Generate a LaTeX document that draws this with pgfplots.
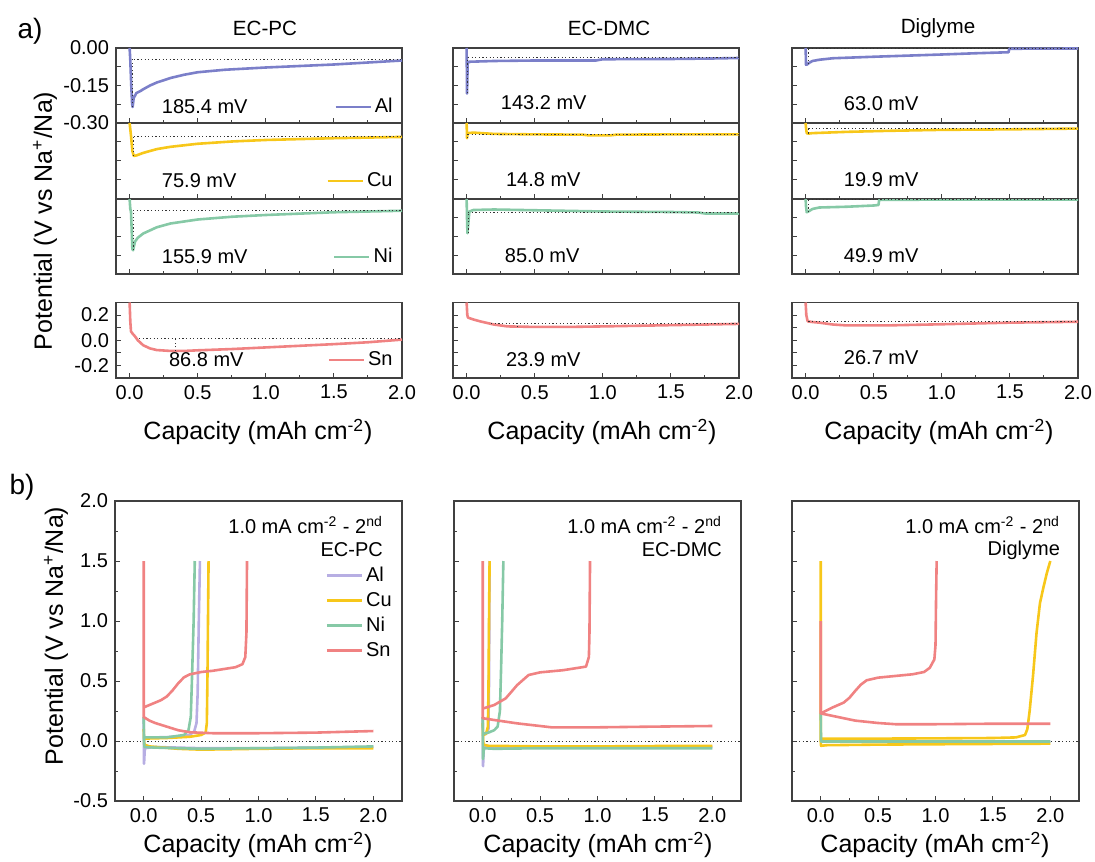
\documentclass[border=0pt]{standalone}
\usepackage{pgfplots}
\pgfplotsset{compat=1.18}
\usepackage{fontspec}
\setmainfont{Liberation Sans}
\definecolor{cAl}{HTML}{7B7FC9}
\definecolor{cAlb}{HTML}{B7AEE3}
\definecolor{cCu}{HTML}{F7C71A}
\definecolor{cNi}{HTML}{86C9A6}
\definecolor{cSn}{HTML}{F08282}
\tikzset{mv/.style={anchor=west, font=\fontsize{10}{12}\selectfont}}
\pgfplotsset{
  base/.style={scale only axis, axis line style={draw=black!75, line width=0.6pt},
    tick align=inside, tick pos=left, major tick length=2.5pt, minor tick length=1.5pt,
    every tick/.style={black!75, line width=0.5pt},
    ticklabel style={font=\fontsize{10}{11}\selectfont},
    /pgf/number format/assume math mode=true, no markers,
    every axis plot/.append style={line width=1.3pt, line join=round},
    legend image code/.code={\draw[##1] (0pt,0pt) -- (17.5pt,0pt);},
    legend style={draw=none, fill=none, font=\fontsize{10}{12}\selectfont, inner sep=0pt,
      nodes={inner ysep=0.5pt, inner xsep=1.5pt, text height=7.5pt, text depth=2pt}, row sep=2pt},
    legend cell align=left},
  pa/.style={base, width=143pt, xmin=-0.1, xmax=2.0, xtick={0,0.5,1,1.5,2},
    minor xtick={0.25,0.75,1.25,1.75}, xticklabels={}},
  stk/.style={pa, height=37.5pt, ymin=-0.3, ymax=0, ytick={-0.3,-0.225,-0.15,-0.075,0}, yticklabels={}},
  snA/.style={pa, height=37.75pt, ymin=-0.3, ymax=0.3, ytick={-0.2,-0.1,0,0.1,0.2}, yticklabels={},
    xticklabels={0.0,0.5,1.0,1.5,2.0}},
  pb/.style={base, width=143.5pt, height=150pt, xmin=-0.25, xmax=2.25, ymin=-0.5, ymax=2.0,
    xtick={0,0.5,1,1.5,2}, minor xtick={0.25,0.75,1.25,1.75}, xticklabels={0.0,0.5,1.0,1.5,2.0},
    ytick={-0.5,0,0.5,1,1.5,2}, minor ytick={-0.25,0.25,0.75,1.25,1.75}, yticklabels={}},
  dotl/.style={black!80, line width=0.5pt, dash pattern=on 0.6pt off 1.2pt, forget plot},
}
\newcommand{\lab}{\fontsize{12.5}{14}\selectfont}
\begin{document}
\begin{tikzpicture}
\useasboundingbox (0,0) rectangle (547.5pt,-430.5pt);
% ---------- labels
\node[font=\fontsize{14}{16}\selectfont] at (15pt,-15.5pt) {a)};
\node[font=\fontsize{14}{16}\selectfont] at (11pt,-243.5pt) {b)};
\node[font=\fontsize{10.3}{12}\selectfont] at (132.5pt,-14pt) {EC-PC};
\node[font=\fontsize{10.3}{12}\selectfont] at (304.5pt,-14pt) {EC-DMC};
\node[font=\fontsize{10.3}{12}\selectfont] at (469pt,-14pt) {Diglyme};
\node[rotate=90, font=\lab] at (22.5pt,-110.5pt) {Potential (V vs Na\textsuperscript{+}/Na)};
\node[rotate=90, font=\lab] at (28pt,-318pt) {Potential (V vs Na\textsuperscript{+}/Na)};
\node[font=\lab] at (129pt,-216pt) {Capacity (mAh cm\textsuperscript{-2})};
\node[font=\lab] at (301pt,-216pt) {Capacity (mAh cm\textsuperscript{-2})};
\node[font=\lab] at (469.5pt,-216pt) {Capacity (mAh cm\textsuperscript{-2})};
\node[font=\lab] at (129pt,-422.5pt) {Capacity (mAh cm\textsuperscript{-2})};
\node[font=\lab] at (299pt,-422.5pt) {Capacity (mAh cm\textsuperscript{-2})};
\node[font=\lab] at (467.5pt,-422.5pt) {Capacity (mAh cm\textsuperscript{-2})};

% ================= PANEL A, column 1 (EC-PC)
\begin{axis}[stk, at={(58pt,-24pt)}, anchor=north west, yticklabels={-0.30,,-0.15,,0.00},
  legend style={at={(0.979,0.213)}, anchor=east}]
\addplot[cAl] coordinates {(0,0) (0.005,-0.05) (0.012,-0.15) (0.018,-0.22) (0.022,-0.236) (0.03,-0.2) (0.05,-0.18) (0.08,-0.172) (0.1,-0.165) (0.15,-0.15) (0.2,-0.138) (0.3,-0.12) (0.4,-0.107) (0.5,-0.097) (0.7,-0.087) (1.0,-0.078) (1.25,-0.072) (1.5,-0.066) (1.75,-0.058) (2.0,-0.05)};
\addlegendentry{Al}
\addplot[dotl] coordinates {(0.03,-0.045) (2.0,-0.045)};
\addplot[dotl] coordinates {(0.022,-0.236) (0.022,-0.045)};
\node[mv] at (rel axis cs:0.136,0.213) {185.4 mV};
\end{axis}
\begin{axis}[stk, at={(58pt,-61.5pt)}, anchor=north west, height=38pt,
  legend style={at={(0.979,0.237)}, anchor=east}]
\addplot[cCu] coordinates {(0,0) (0.01,-0.05) (0.02,-0.11) (0.03,-0.13) (0.05,-0.128) (0.1,-0.118) (0.2,-0.103) (0.3,-0.094) (0.5,-0.082) (0.75,-0.073) (1.0,-0.067) (1.5,-0.06) (2.0,-0.055)};
\addlegendentry{Cu}
\addplot[dotl] coordinates {(0.03,-0.054) (2.0,-0.054)};
\addplot[dotl] coordinates {(0.03,-0.13) (0.03,-0.054)};
\node[mv] at (rel axis cs:0.136,0.237) {75.9 mV};
\end{axis}
\begin{axis}[stk, at={(58pt,-99.5pt)}, anchor=north west,
  legend style={at={(0.979,0.227)}, anchor=east}]
\addplot[cNi] coordinates {(0,0) (0.005,-0.04) (0.01,-0.05) (0.015,-0.12) (0.02,-0.2) (0.025,-0.205) (0.04,-0.17) (0.06,-0.155) (0.1,-0.138) (0.2,-0.113) (0.3,-0.098) (0.5,-0.082) (0.75,-0.071) (1.0,-0.064) (1.5,-0.053) (2.0,-0.047)};
\addlegendentry{Ni}
\addplot[dotl] coordinates {(0.025,-0.044) (2.0,-0.044)};
\addplot[dotl] coordinates {(0.025,-0.205) (0.025,-0.044)};
\node[mv] at (rel axis cs:0.136,0.227) {155.9 mV};
\end{axis}
\begin{axis}[snA, at={(58pt,-151.25pt)}, anchor=north west, yticklabels={-0.2,,0.0,,0.2},
  legend style={at={(0.979,0.238)}, anchor=east}]
\addplot[cSn] coordinates {(0,0.3) (0.005,0.15) (0.01,0.07) (0.02,0.055) (0.04,0.03) (0.06,0.0) (0.1,-0.04) (0.15,-0.065) (0.2,-0.078) (0.3,-0.085) (0.4,-0.085) (0.5,-0.08) (0.75,-0.07) (1.0,-0.057) (1.25,-0.044) (1.5,-0.031) (1.75,-0.016) (2.0,0.005)};
\addlegendentry{Sn}
\addplot[dotl] coordinates {(0.07,0.01) (2.0,0.01)};
\addplot[dotl] coordinates {(0.337,-0.085) (0.337,0.01)};
\node[mv] at (rel axis cs:0.161,0.238) {86.8 mV};
\end{axis}

% ================= PANEL A, column 2 (EC-DMC)
\begin{axis}[stk, at={(226.5pt,-24pt)}, anchor=north west]
\addplot[cAl] coordinates {(0,0) (0.003,-0.182) (0.008,-0.06) (0.02,-0.055) (0.2,-0.052) (0.5,-0.05) (0.95,-0.05) (1.0,-0.045) (1.5,-0.044) (1.8,-0.042) (2.0,-0.04)};
\addplot[dotl] coordinates {(0.01,-0.038) (2.0,-0.038)};
\addplot[dotl] coordinates {(0.01,-0.182) (0.01,-0.038)};
\node[mv] at (rel axis cs:0.143,0.267) {143.2 mV};
\end{axis}
\begin{axis}[stk, at={(226.5pt,-61.5pt)}, anchor=north west, height=38pt]
\addplot[cCu] coordinates {(0,0) (0.003,-0.06) (0.008,-0.04) (0.05,-0.038) (0.2,-0.043) (0.5,-0.045) (0.85,-0.046) (0.9,-0.049) (1.05,-0.049) (1.1,-0.046) (1.5,-0.045) (2.0,-0.045)};
\addplot[dotl] coordinates {(0.01,-0.044) (2.0,-0.044)};
\addplot[dotl] coordinates {(0.01,-0.06) (0.01,-0.044)};
\node[mv] at (rel axis cs:0.161,0.25) {14.8 mV};
\end{axis}
\begin{axis}[stk, at={(226.5pt,-99.5pt)}, anchor=north west]
\addplot[cNi] coordinates {(0,0) (0.003,-0.08) (0.006,-0.137) (0.012,-0.1) (0.02,-0.05) (0.05,-0.044) (0.2,-0.042) (0.4,-0.044) (0.6,-0.046) (1.0,-0.05) (1.5,-0.052) (1.7,-0.054) (1.75,-0.058) (2.0,-0.058)};
\addplot[dotl] coordinates {(0.012,-0.052) (2.0,-0.052)};
\addplot[dotl] coordinates {(0.012,-0.137) (0.012,-0.052)};
\node[mv] at (rel axis cs:0.157,0.24) {85.0 mV};
\end{axis}
\begin{axis}[snA, at={(226.5pt,-151.25pt)}, anchor=north west]
\addplot[cSn] coordinates {(0,0.3) (0.005,0.2) (0.01,0.18) (0.05,0.165) (0.1,0.15) (0.2,0.125) (0.3,0.11) (0.5,0.106) (0.75,0.106) (1.0,0.11) (1.5,0.12) (2.0,0.13)};
\addplot[dotl] coordinates {(0.18,0.13) (2.0,0.13)};
\addplot[dotl] coordinates {(0.37,0.106) (0.37,0.13)};
\node[mv] at (rel axis cs:0.161,0.25) {23.9 mV};
\end{axis}

% ================= PANEL A, column 3 (Diglyme)
\begin{axis}[stk, at={(396pt,-24pt)}, anchor=north west]
\addplot[cAl] coordinates {(0,0) (0.003,-0.067) (0.01,-0.066) (0.03,-0.058) (0.05,-0.052) (0.1,-0.047) (0.2,-0.041) (0.5,-0.035) (1.0,-0.026) (1.25,-0.021) (1.49,-0.017) (1.495,-0.003) (2.0,-0.002)};
\addplot[dotl] coordinates {(0.02,-0.004) (2.0,-0.004)};
\addplot[dotl] coordinates {(0.02,-0.066) (0.02,-0.004)};
\node[mv] at (rel axis cs:0.157,0.253) {63.0 mV};
\end{axis}
\begin{axis}[stk, at={(396pt,-61.5pt)}, anchor=north west, height=38pt]
\addplot[cCu] coordinates {(0,0) (0.003,-0.02) (0.008,-0.04) (0.02,-0.042) (0.05,-0.04) (0.3,-0.035) (0.6,-0.031) (1.0,-0.027) (1.5,-0.025) (2.0,-0.022)};
\addplot[dotl] coordinates {(0.02,-0.021) (2.0,-0.021)};
\addplot[dotl] coordinates {(0.02,-0.042) (0.02,-0.021)};
\node[mv] at (rel axis cs:0.157,0.25) {19.9 mV};
\end{axis}
\begin{axis}[stk, at={(396pt,-99.5pt)}, anchor=north west]
\addplot[cNi] coordinates {(0,0) (0.003,-0.03) (0.008,-0.053) (0.02,-0.05) (0.05,-0.04) (0.1,-0.034) (0.3,-0.031) (0.5,-0.026) (0.535,-0.024) (0.54,-0.003) (2.0,-0.002)};
\addplot[dotl] coordinates {(0.02,-0.003) (2.0,-0.003)};
\addplot[dotl] coordinates {(0.02,-0.053) (0.02,-0.003)};
\node[mv] at (rel axis cs:0.157,0.24) {49.9 mV};
\end{axis}
\begin{axis}[snA, at={(396pt,-151.25pt)}, anchor=north west]
\addplot[cSn] coordinates {(0,0.3) (0.005,0.2) (0.015,0.15) (0.05,0.145) (0.1,0.14) (0.2,0.125) (0.3,0.118) (0.6,0.118) (1.0,0.127) (1.5,0.14) (2.0,0.147)};
\addplot[dotl] coordinates {(0.02,0.147) (2.0,0.147)};
\node[mv] at (rel axis cs:0.157,0.265) {26.7 mV};
\end{axis}

% ================= PANEL B
\begin{axis}[pb, at={(57.5pt,-250.5pt)}, anchor=north west, yticklabels={-0.5,0.0,0.5,1.0,1.5,2.0},
  legend style={at={(0.976,0.788)}, anchor=north east}]
\addplot[dotl] coordinates {(-0.25,0) (2.25,0)};
\addplot[cAlb] coordinates {(0,0.03) (0.1,0.03) (0.3,0.035) (0.4,0.05) (0.44,0.08) (0.46,0.15) (0.47,0.4) (0.48,1.0) (0.49,1.5)};
\addlegendentry{Al}
\addplot[cAlb, forget plot] coordinates {(0,0.2) (0.003,-0.19) (0.01,-0.06) (0.1,-0.05) (0.5,-0.06) (1.0,-0.06) (1.5,-0.055) (2.0,-0.05)};
\addplot[cCu] coordinates {(0,0.02) (0.2,0.025) (0.4,0.035) (0.5,0.05) (0.54,0.07) (0.55,0.15) (0.555,0.5) (0.56,1.0) (0.565,1.5)};
\addlegendentry{Cu}
\addplot[cCu, forget plot] coordinates {(0,0.1) (0.005,-0.03) (0.05,-0.045) (0.3,-0.065) (0.5,-0.072) (1.0,-0.065) (1.5,-0.06) (2.0,-0.06)};
\addplot[cNi] coordinates {(0,0.03) (0.2,0.03) (0.35,0.05) (0.39,0.09) (0.41,0.2) (0.42,0.5) (0.435,1.0) (0.445,1.5)};
\addlegendentry{Ni}
\addplot[cNi, forget plot] coordinates {(0,0.2) (0.003,0.0) (0.006,-0.05) (0.1,-0.055) (0.5,-0.065) (1.0,-0.06) (1.5,-0.055) (2.0,-0.045)};
\addplot[cSn] coordinates {(0,1.5) (0,0.2) (0.05,0.17) (0.1,0.15) (0.2,0.12) (0.3,0.09) (0.4,0.073) (0.6,0.065) (1.0,0.065) (1.5,0.07) (1.8,0.078) (2.0,0.083)};
\addlegendentry{Sn}
\addplot[cSn, forget plot] coordinates {(0,0.28) (0.05,0.3) (0.1,0.32) (0.15,0.34) (0.2,0.37) (0.25,0.42) (0.3,0.48) (0.35,0.53) (0.4,0.555) (0.5,0.575) (0.6,0.585) (0.7,0.6) (0.8,0.615) (0.86,0.64) (0.885,0.7) (0.895,0.9) (0.9,1.5)};
\node[anchor=east, font=\fontsize{10}{12}\selectfont] at (rel axis cs:0.958,0.92) {1.0 mA cm\textsuperscript{-2} - 2\textsuperscript{nd}};
\node[anchor=east, font=\fontsize{10}{12}\selectfont] at (rel axis cs:0.958,0.837) {EC-PC};
\end{axis}

\begin{axis}[pb, at={(227pt,-250.5pt)}, anchor=north west]
\addplot[dotl] coordinates {(-0.25,0) (2.25,0)};
\addplot[cAlb] coordinates {(0,0.05) (0.03,0.06) (0.05,0.1) (0.055,0.5) (0.06,1.5)};
\addplot[cAlb] coordinates {(0,0.2) (0.003,-0.21) (0.01,-0.05) (0.5,-0.05) (2.0,-0.05)};
\addplot[cCu] coordinates {(0,0.05) (0.03,0.06) (0.045,0.12) (0.05,0.4) (0.055,1.0) (0.06,1.5)};
\addplot[cCu] coordinates {(0,0.15) (0.005,-0.03) (0.05,-0.04) (0.5,-0.045) (1.0,-0.045) (1.5,-0.042) (2.0,-0.04)};
\addplot[cNi] coordinates {(0,0.06) (0.05,0.07) (0.1,0.09) (0.13,0.12) (0.15,0.25) (0.16,0.6) (0.17,1.0) (0.18,1.5)};
\addplot[cNi] coordinates {(0,0.2) (0.003,-0.15) (0.01,-0.06) (0.1,-0.065) (0.5,-0.06) (1.0,-0.06) (2.0,-0.06)};
\addplot[cSn] coordinates {(0,1.5) (0,0.19) (0.1,0.175) (0.3,0.147) (0.5,0.125) (0.6,0.114) (1.0,0.114) (1.5,0.12) (2.0,0.125)};
\addplot[cSn] coordinates {(0,0.27) (0.1,0.3) (0.2,0.355) (0.25,0.41) (0.3,0.466) (0.4,0.55) (0.5,0.572) (0.7,0.59) (0.9,0.62) (0.925,0.7) (0.93,0.9) (0.935,1.5)};
\node[anchor=east, font=\fontsize{10}{12}\selectfont] at (rel axis cs:0.958,0.92) {1.0 mA cm\textsuperscript{-2} - 2\textsuperscript{nd}};
\node[anchor=east, font=\fontsize{10}{12}\selectfont] at (rel axis cs:0.958,0.837) {EC-DMC};
\end{axis}

\begin{axis}[pb, at={(396pt,-250.5pt)}, anchor=north west]
\addplot[dotl] coordinates {(-0.25,0) (2.25,0)};
\addplot[cAlb] coordinates {(0,0.0) (0.5,-0.005) (2.0,-0.005)};
\addplot[cCu] coordinates {(0,1.5) (0,0.0) (0.003,-0.04) (0.05,-0.035) (0.5,-0.03) (1.0,-0.027) (2.0,-0.022)};
\addplot[cCu] coordinates {(0,0.02) (0.5,0.02) (1.0,0.022) (1.5,0.025) (1.7,0.03) (1.78,0.05) (1.8,0.1) (1.82,0.25) (1.85,0.55) (1.88,0.9) (1.91,1.15) (1.94,1.28) (1.97,1.4) (2.0,1.5)};
\addplot[cNi] coordinates {(0,0.23) (0.003,-0.005) (2.0,-0.005)};
\addplot[cNi] coordinates {(0,0.0) (2.0,0.0)};
\addplot[cSn] coordinates {(0,1.0) (0,0.23) (0.1,0.21) (0.3,0.17) (0.5,0.15) (0.65,0.14) (1.0,0.14) (1.5,0.144) (2.0,0.144)};
\addplot[cSn] coordinates {(0,0.23) (0.1,0.278) (0.2,0.32) (0.25,0.36) (0.3,0.417) (0.35,0.47) (0.4,0.506) (0.5,0.528) (0.8,0.556) (0.9,0.575) (0.95,0.61) (0.99,0.68) (1.0,0.8) (1.005,1.2) (1.01,1.5)};
\node[anchor=east, font=\fontsize{10}{12}\selectfont] at (rel axis cs:0.958,0.92) {1.0 mA cm\textsuperscript{-2} - 2\textsuperscript{nd}};
\node[anchor=east, font=\fontsize{10}{12}\selectfont] at (rel axis cs:0.958,0.837) {Diglyme};
\end{axis}
\end{tikzpicture}
\end{document}
